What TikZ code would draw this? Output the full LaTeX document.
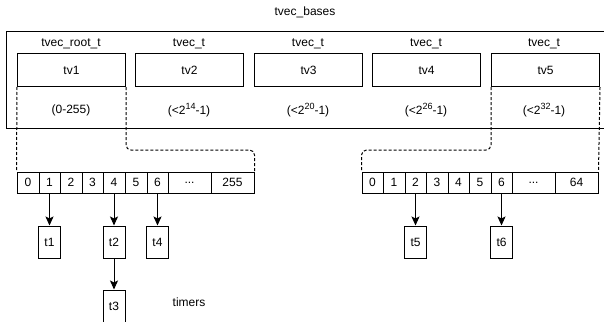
\documentclass[tikz,border=0pt]{standalone}
\usepackage{fontspec}
\setmainfont{Liberation Sans}
\usetikzlibrary{arrows.meta,calc}
\newcommand\celldots{...}
\newcommand\supn[1]{\raisebox{4.5pt}{\fontsize{9}{9}\selectfont #1}}
\begin{document}
\begin{tikzpicture}[x=1pt,y=-1pt,
  font=\fontsize{12}{14}\selectfont,
  box/.style={draw,line width=1pt,inner sep=0pt,anchor=north west},
  cell/.style={draw,line width=1pt,inner sep=0pt,minimum height=21pt},
  timer/.style={draw,line width=1pt,inner sep=0pt,minimum width=22pt,minimum height=32pt},
  dline/.style={line width=1pt,dash pattern=on 3pt off 2pt,rounded corners=5pt},
  arr/.style={line width=1pt,-{Stealth[length=9pt,width=8pt,inset=2pt]}},
  lab/.style={inner sep=0pt}]
\useasboundingbox (0,0) rectangle (604,321);
\clip (0,0) rectangle (604,321);
\node[lab] (title) at (305,12) {tvec\_bases};
\draw[line width=1pt] (6,32) rectangle (640,128);
\node[lab] (c1) at (71,44) {tvec\_root\_t};
\node[lab] (c2) at (189,44) {tvec\_t};
\node[lab] (c3) at (308,44) {tvec\_t};
\node[lab] (c4) at (426,44) {tvec\_t};
\node[lab] (c5) at (544,44) {tvec\_t};
\foreach \i/\x in {1/17,2/135,3/254,4/372,5/491}{
  \node[box,minimum width=108pt,minimum height=33pt] (tv\i) at (\x,53) {};
  \node[lab] at (tv\i.center) {tv\i};
}
\node[lab] (r1) at (71,110) {(0-255)};
\node[lab] (r2) at (189,110) {(<2\supn{14}-1)};
\node[lab] (r3) at (308,110) {(<2\supn{20}-1)};
\node[lab] (r4) at (426,110) {(<2\supn{26}-1)};
\node[lab] (r5) at (544,110) {(<2\supn{32}-1)};
% left array
\foreach \n/\a/\b/\t in {0/17/39/0,1/39/60/1,2/60/82/2,3/82/103/3,4/103/125/4,5/125/147/5,6/147/168/6,7/168/211/\celldots,8/211/254/255}{
  \node[cell,minimum width={(\b-\a)*1pt}] (L\n) at ({(\a+\b)/2},182.5) {\t};
}
\foreach \n/\a/\b/\t in {0/362/383/0,1/383/405/1,2/405/426/2,3/426/448/3,4/448/469/4,5/469/491/5,6/491/512/6,7/512/555/\celldots,8/555/598/64}{
  \node[cell,minimum width={(\b-\a)*1pt}] (R\n) at ({(\a+\b)/2},182.5) {\t};
}
% dashed
\draw[dline] (tv1.south west) -- (L0.north west);
\draw[dline] (tv1.south east) -- (tv1.south east |- 0,150) -- (L8.north east |- 0,150) -- (L8.north east);
\draw[dline] (tv5.south east) -- (R8.north east);
\draw[dline] (tv5.south west) -- (tv5.south west |- 0,150) -- (R0.north west |- 0,150) -- (R0.north west);
% timers
\node[timer] (t1) at (L1 |- 0,242) {t1};
\node[timer] (t2) at (L4 |- 0,242) {t2};
\node[timer] (t4) at (L6 |- 0,242) {t4};
\node[timer] (t3) at (L4 |- 0,306) {t3};
\node[timer] (t5) at (R2 |- 0,242) {t5};
\node[timer] (t6) at (R6 |- 0,242) {t6};
\draw[arr] (L1.south) -- (t1.north);
\draw[arr] (L4.south) -- (t2.north);
\draw[arr] (L6.south) -- (t4.north);
\draw[arr] (t2.south) -- (t3.north);
\draw[arr] (R2.south) -- (t5.north);
\draw[arr] (R6.south) -- (t6.north);
\node[lab] (tm) at (189,302) {timers};
\end{tikzpicture}
\end{document}
